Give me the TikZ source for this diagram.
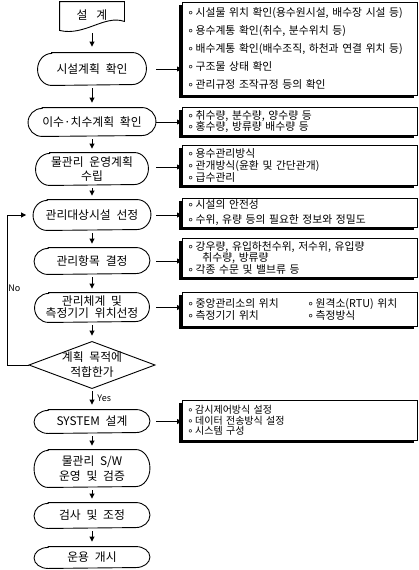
\documentclass[tikz,border=0pt]{standalone}
\usepackage{fontspec}
\setmainfont{Noto Sans CJK KR}[WordSpace=2.2]
\newfontfamily\dvs{DejaVu Sans}
\usetikzlibrary{arrows.meta,shadows}
\newcommand\bl{{\dvs ∘}\hspace{1.5pt}}
\newcommand\stadium[6]{%
  \node[stxt, minimum width=#3pt, minimum height=#4pt, font=\fontsize{11.8}{#5}\selectfont] (#1) at #2 {#6};
  \draw ([xshift=14pt]#1.north west) -- ([xshift=-14pt]#1.north east)
    arc[start angle=90,end angle=-90,x radius=14pt,y radius={0.5*#4pt}]
    -- ([xshift=14pt]#1.south west)
    arc[start angle=270,end angle=90,x radius=14pt,y radius={0.5*#4pt}] -- cycle;}
\begin{document}
\begin{tikzpicture}[x=1pt,y=-1pt,line width=0.9pt,
  stxt/.style={draw=none,inner sep=0pt,align=center},
  arr/.style={-{Triangle[length=5pt,width=5pt]}},
  box/.style={draw,fill=white,anchor=north west,minimum width=235pt,text width=225pt,
    inner xsep=5pt,inner ysep=0pt,align=left,line width=0.8pt,
    general shadow={fill=black,shadow xshift=-3pt,shadow yshift=-3pt}},
  lbl/.style={inner sep=0pt,font=\fontsize{9}{10}\selectfont}]
\useasboundingbox[fill=white] (0,0) rectangle (419,570);

% start document shape
\node[stxt, minimum width=64pt, minimum height=26pt, font=\fontsize{11.8}{13}\selectfont] (s) at (92,15) {설\hspace{9pt}계};
\draw (s.north west) -- (s.north east) -- ([yshift=7pt]s.south east)
  .. controls ([xshift=-20pt,yshift=14pt]s.south east) and ([xshift=25pt,yshift=-8pt]s.south west) ..
  ([yshift=-2pt]s.south west) -- cycle;

\stadium{A}{(92,69)}{108}{32}{13}{시설계획 확인}
\stadium{B}{(92,122)}{127}{28}{13}{이수·치수계획 확인}
\stadium{C}{(92,169)}{112}{32}{14}{물관리 운영계획\\수립}
\stadium{D}{(92,215)}{117}{30}{13}{관리대상시설 선정}
\stadium{E}{(92,261)}{115}{26}{13}{관리항목 결정}
\stadium{F}{(92,307.5)}{114}{29}{12}{관리체계 및\\측정기기 위치선정}
\node[stxt, minimum width=125pt, minimum height=46pt, font=\fontsize{11.8}{15}\selectfont] (dm) at (92,365) {계획 목적에\\적합한가};
\draw (dm.west) -- (dm.north) -- (dm.east) -- (dm.south) -- cycle;
\stadium{G}{(92,421.5)}{115}{23}{13}{SYSTEM 설계}
\stadium{H}{(92,468.5)}{115}{37}{15}{물관리 S/W\\운영 및 검증}
\stadium{I}{(92,515.5)}{115}{25}{13}{검사 및 조정}
\stadium{J}{(92,557.5)}{115}{21}{13}{운용 개시}

% detail boxes
\node[box, minimum height=93pt, font=\fontsize{10.8}{18}\selectfont] (b1) at (182,2)
 {\bl 시설물 위치 확인(용수원시설, 배수장 시설 등)\\
  \bl 용수계통 확인(취수, 분수위치 등)\\
  \bl 배수계통 확인(배수조직, 하천과 연결 위치 등)\\
  \bl 구조물 상태 확인\\
  \bl 관리규정 조작규정 등의 확인};
\node[box, minimum height=28pt, font=\fontsize{10.8}{11.5}\selectfont] (b2) at (182,107)
 {\bl 취수량, 분수량, 양수량 등\\
  \bl 홍수량, 방류량 배수량 등};
\node[box, minimum height=40pt, font=\fontsize{10.8}{11.8}\selectfont] (b3) at (182,145)
 {\bl 용수관리방식\\
  \bl 관개방식(윤환 및 간단관개)\\
  \bl 급수관리};
\node[box, minimum height=29pt, font=\fontsize{10.8}{15}\selectfont] (b4) at (182,198)
 {\bl 시설의 안전성\\
  \bl 수위, 유량 등의 필요한 정보와 정밀도};
\node[box, minimum height=39pt, font=\fontsize{10.8}{11.8}\selectfont] (b5) at (182,238)
 {\bl 강우량, 유입하천수위, 저수위, 유입량\\
  \hspace*{15pt}취수량, 방류량\\
  \bl 각종 수문 및 밸브류 등};
\node[box, minimum height=34pt, font=\fontsize{10.8}{11.5}\selectfont] (b6) at (182,292)
 {\makebox[120pt][l]{\bl 중앙관리소의 위치}\bl 원격소(RTU) 위치\\
  \makebox[120pt][l]{\bl 측정기기 위치}\bl 측정방식};
\node[box, minimum height=40pt, font=\fontsize{10}{10.6}\selectfont] (b7) at (182,400)
 {\bl 감시제어방식 설정\\
  \bl 데이터 전송방식 설정\\
  \bl 시스템 구성};

% vertical connectors
\draw[arr, shorten <=5pt, shorten >=6pt] (s.south) -- (A.north);
\draw[arr, shorten <=3pt, shorten >=5pt] (A.south) -- (B.north);
\draw[arr, shorten <=3pt, shorten >=4pt] (B.south) -- (C.north);
\draw[arr, shorten <=3pt, shorten >=4pt] (C.south) -- (D.north);
\draw[arr, shorten <=3pt, shorten >=4pt] (D.south) -- (E.north);
\draw[arr, shorten <=3pt, shorten >=4pt] (E.south) -- (F.north);
\draw[arr, shorten <=3pt, shorten >=6pt] (F.south) -- (dm.north);
\draw[arr, shorten <=3pt, shorten >=5pt] (dm.south) -- (G.north);
\draw[arr, shorten <=3pt, shorten >=4pt] (G.south) -- (H.north);
\draw[arr, shorten <=3pt, shorten >=4pt] (H.south) -- (I.north);
\draw[arr, shorten <=3pt, shorten >=5pt] (I.south) -- (J.north);

% horizontal connectors
\coordinate (ac) at (156,0);
\draw[arr] (A.east -| ac) -- (A.east -| b1.west);
\draw[arr] (B.east -| ac) -- (B.east -| b2.west);
\draw[arr] ([yshift=2pt]C.east -| ac) -- ([yshift=2pt]C.east -| b3.west);
\draw[arr] (D.east -| ac) -- (D.east -| b4.west);
\draw[arr] (E.east -| ac) -- (E.east -| b5.west);
\draw[arr] (F.east -| ac) -- (F.east -| b6.west);
\draw[arr] (G.east -| ac) -- (G.east -| b7.west);

% loop back
\coordinate (lx) at (7,0);
\draw[arr, shorten >=7pt] (dm.west) -- (dm.west -| lx) |- (D.west);
\node[lbl, anchor=west] (no) at (8,288) {No};
\node[lbl, anchor=west] (yes) at (97,398) {Yes};
\end{tikzpicture}
\end{document}
